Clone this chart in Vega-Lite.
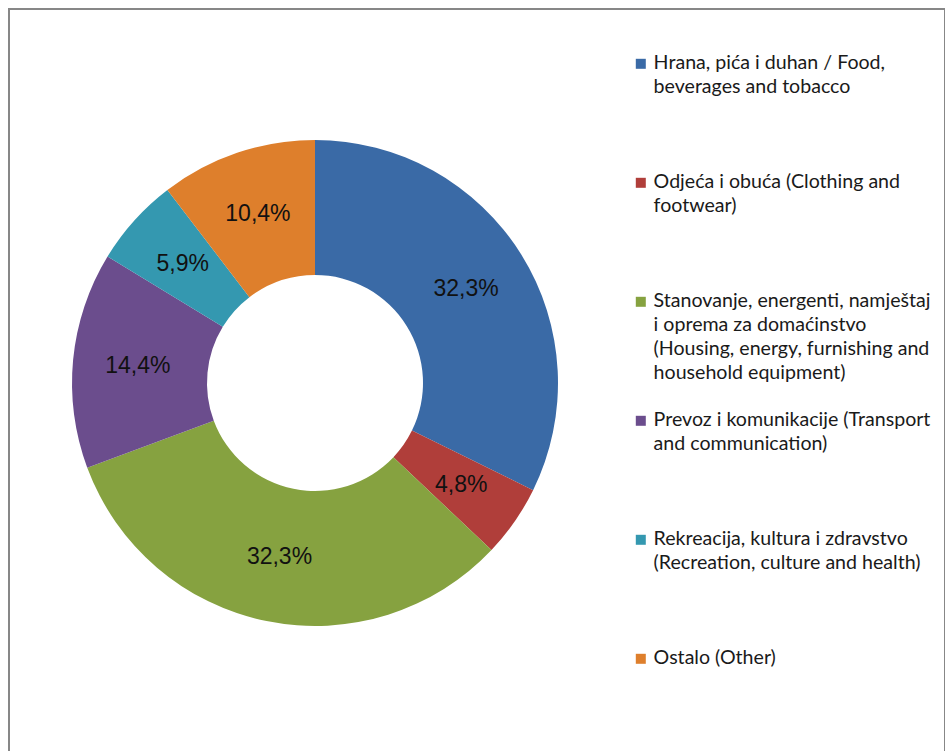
{
  "$schema": "https://vega.github.io/schema/vega-lite/v6.json",
  "width": 936,
  "height": 760,
  "autosize": "none",
  "padding": {"left": 9, "top": 9, "right": 0, "bottom": 0},
  "background": "white",
  "view": {"stroke": "#878787", "strokeWidth": 2},
  "config": {"view": {"stroke": "#878787", "strokeWidth": 2}},
  "data": {
    "values": [
      {"idx": 1, "category": "Hrana, pića i duhan / Food,|beverages and tobacco", "value": 32.3, "label": "32,3%"},
      {"idx": 2, "category": "Odjeća i obuća (Clothing and|footwear)", "value": 4.8, "label": "4,8%"},
      {"idx": 3, "category": "Stanovanje, energenti, namještaj|i oprema za domaćinstvo|(Housing, energy, furnishing and|household equipment)", "value": 32.3, "label": "32,3%"},
      {"idx": 4, "category": "Prevoz i komunikacije (Transport|and communication)", "value": 14.4, "label": "14,4%"},
      {"idx": 5, "category": "Rekreacija, kultura i zdravstvo|(Recreation, culture and health)", "value": 5.9, "label": "5,9%"},
      {"idx": 6, "category": "Ostalo (Other)", "value": 10.4, "label": "10,4%"}
    ]
  },
  "layer": [
    {
      "mark": {"type": "arc", "innerRadius": 108, "outerRadius": 243, "x": 306, "y": 374},
      "encoding": {
        "theta": {"field": "value", "type": "quantitative", "stack": true},
        "order": {"field": "idx", "type": "quantitative"},
        "color": {
          "field": "category",
          "type": "nominal",
          "sort": null,
          "scale": {
            "domain": [
              "Hrana, pića i duhan / Food,|beverages and tobacco",
              "Odjeća i obuća (Clothing and|footwear)",
              "Stanovanje, energenti, namještaj|i oprema za domaćinstvo|(Housing, energy, furnishing and|household equipment)",
              "Prevoz i komunikacije (Transport|and communication)",
              "Rekreacija, kultura i zdravstvo|(Recreation, culture and health)",
              "Ostalo (Other)"
            ],
            "range": ["#3A6AA6", "#B03E3A", "#86A240", "#6B4D8D", "#3498B0", "#DE7F2C"]
          },
          "legend": {
            "orient": "none",
            "legendX": 622,
            "legendY": 45,
            "title": null,
            "padding": 0,
            "symbolType": "square",
            "symbolSize": 100,
            "symbolStrokeWidth": 0,
            "labelFont": "Lato",
            "labelFontSize": 19.6,
            "labelColor": "#1a1a1a",
            "labelLimit": 400,
            "labelOffset": 3,
            "labelBaseline": "top",
            "labelExpr": "slice(split(datum.label + '|||', '|'), 0, 4)",
            "rowPadding": 26,
            "encode": {"labels": {"update": {"dy": {"value": -10}, "lineHeight": {"value": 24}}}}
          }
        }
      }
    },
    {
      "mark": {"type": "text", "radius": 178, "x": 306, "y": 374, "font": "Liberation Sans", "fontSize": 23, "fill": "#111111"},
      "encoding": {
        "theta": {"field": "value", "type": "quantitative", "stack": true},
        "order": {"field": "idx", "type": "quantitative"},
        "text": {"field": "label", "type": "nominal"}
      }
    }
  ]
}
